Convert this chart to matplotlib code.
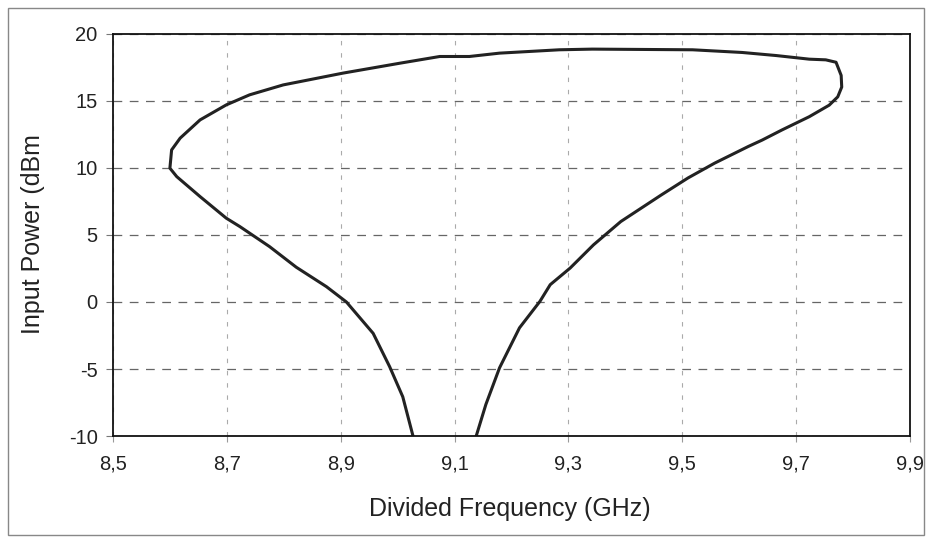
import matplotlib.pyplot as plt
from matplotlib.patches import Rectangle

plt.rcParams['font.family'] = ['Liberation Sans', 'DejaVu Sans']

# curve traced in order: up the left branch, across the top, down the right branch
freq = [9.027, 9.009, 8.986, 8.957, 8.910, 8.875, 8.822, 8.775, 8.723, 8.699,
        8.653, 8.612, 8.600, 8.603, 8.618, 8.653, 8.699, 8.740, 8.799, 8.904,
        9.004, 9.074, 9.126, 9.179, 9.284, 9.342, 9.518, 9.605, 9.665, 9.723,
        9.752, 9.770, 9.779, 9.780, 9.773, 9.758, 9.723, 9.675, 9.640, 9.616,
        9.557, 9.510, 9.463, 9.392, 9.344, 9.303, 9.268, 9.250, 9.214, 9.179,
        9.155, 9.138]
power = [-10.0, -7.07, -4.83, -2.34, 0.0, 1.14, 2.59, 4.13, 5.62, 6.25,
         7.86, 9.35, 9.98, 11.34, 12.22, 13.58, 14.70, 15.45, 16.19, 17.07,
         17.81, 18.31, 18.31, 18.56, 18.81, 18.86, 18.81, 18.61, 18.38, 18.11,
         18.06, 17.88, 16.90, 16.03, 15.30, 14.68, 13.82, 12.83, 12.07, 11.60,
         10.36, 9.25, 7.98, 6.00, 4.26, 2.53, 1.29, 0.05, -1.93, -4.91,
         -7.64, -10.0]

xticks = [8.5, 8.7, 8.9, 9.1, 9.3, 9.5, 9.7, 9.9]
xlabels = ['8,5', '8,7', '8,9', '9,1', '9,3', '9,5', '9,7', '9,9']
yticks = [-10, -5, 0, 5, 10, 15, 20]
ylabels = ['-10', '-5', '0', '5', '10', '15', '20']

fig = plt.figure(figsize=(9.29, 5.37), dpi=100)
ax = fig.add_axes([0.1216, 0.188, 0.858, 0.749])

ax.plot(freq, power, color='#222222', linewidth=2.2, solid_joinstyle='round')

ax.set_xlim(8.5, 9.9)
ax.set_ylim(-10, 20)
ax.set_xticks(xticks)
ax.set_xticklabels(xlabels)
ax.set_yticks(yticks)
ax.set_yticklabels(ylabels)

ax.xaxis.grid(True, linestyle=(0, (4, 7)), color='#aaaaaa', linewidth=0.8)
ax.yaxis.grid(True, linestyle=(0, (7, 6)), color='#666666', linewidth=0.9)

ax.tick_params(axis='y', direction='out', length=5, width=0.8, color='#777777',
               pad=6, labelsize=14.5, labelcolor='#222222')
ax.tick_params(axis='x', direction='out', length=4, width=0.8, color='#999999',
               pad=9, labelsize=14.5, labelcolor='#222222')

for s in ax.spines.values():
    s.set_color('#111111')
    s.set_linewidth(1.3)

fig.text(0.549, 0.052, 'Divided Frequency (GHz)', ha='center', va='center',
         fontsize=18, color='#222222')
fig.text(0.036, 0.564, 'Input Power (dBm', ha='center', va='center',
         rotation=90, fontsize=18, color='#222222')

fig.patches.append(Rectangle((0.009, 0.004), 0.986, 0.982, transform=fig.transFigure,
                             fill=False, edgecolor='#888888', linewidth=1.0))

fig.savefig('out.png', dpi=100)
